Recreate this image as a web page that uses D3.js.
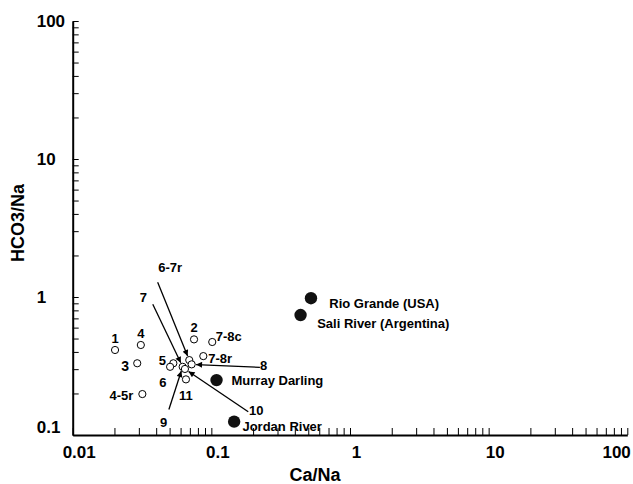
<!DOCTYPE html>
<html>
<head>
<meta charset="utf-8">
<script src="https://cdn.jsdelivr.net/npm/d3@7"></script>
<style>
  body { margin: 0; background: #fff; }
  svg { font-family: "Liberation Sans", Arial, Helvetica, sans-serif; font-weight: bold; }
  .axis text { font-size: 17px; font-weight: bold; fill: #000; }
  .axis .domain { stroke: #000; stroke-width: 2; }
  .axis .tick line { stroke: #000; stroke-width: 1; }
  .axis-label { font-size: 18px; }
  .pt-label { font-size: 13px; }
</style>
</head>
<body>
<svg id="chart"></svg>
<script>
// tick labels
const xTicksMajor = [0.01, 0.1, 1, 10, 100];
const xTickLabels = ['0.01', '0.1', '1', '10', '100'];
const yTicksMajor = [0.1, 1, 10, 100];
const yTickLabels = ['0.1', '1', '10', '100'];

// open circles (samples)
const sampleNames = ['1', '4', '3', '4-5r', '2', '7-8c', '7-8r', '5', '6', '7', '6-7r', '8', '10', '11'];
const sampleCa    = [0.0202, 0.031, 0.0292, 0.0318, 0.075, 0.1015, 0.0875, 0.0532, 0.0504, 0.0621, 0.0693, 0.0721, 0.0645, 0.0656];
const sampleHco3  = [0.413, 0.449, 0.331, 0.198, 0.493, 0.472, 0.373, 0.331, 0.312, 0.312, 0.349, 0.325, 0.301, 0.253];

// filled circles (rivers)
const riverNames = ['Rio Grande (USA)', 'Sali River (Argentina)', 'Murray Darling', 'Jordan River'];
const riverCa    = [0.523, 0.44, 0.109, 0.146];
const riverHco3  = [0.98, 0.74, 0.25, 0.125];

// arrow callouts: label, target sample, tail position (data units)
const arrowLabels  = ['6-7r', '7', '8', '9', '10'];
const arrowTargets = ['6-7r', '7', '8', '7', '10'];
const arrowFromCa   = [0.041, 0.0378, 0.224, 0.0494, 0.1845];
const arrowFromHco3 = [1.279, 0.885, 0.309, 0.153, 0.1475];

// label placement (pixel offsets from the mark, text-anchor)
const labelLayout = {
    '1': [0, -7, 'middle'], '4': [0, -7, 'middle'], '2': [0, -7, 'middle'],
    '3': [-12, 7.5, 'middle'], '4-5r': [-9, 5.7, 'end'],
    '7-8c': [3.5, -1.3, 'start'], '7-8r': [5, 6.7, 'start'],
    '5': [-11, 1.7, 'middle'], '6': [-7.3, 20, 'middle'], '11': [0, 20.7, 'middle'],
    'Rio Grande (USA)': [18.3, 10, 'start'], 'Sali River (Argentina)': [16.6, 13.3, 'start'],
    'Murray Darling': [15, 4.5, 'start'], 'Jordan River': [8.3, 9.5, 'start'],
    'a6-7r': [12.5, -10.6, 'middle'], 'a7': [-9.4, -2, 'middle'], 'a8': [3.7, 2.7, 'middle'],
    'a9': [-5.3, 17.4, 'middle'], 'a10': [8, 3.3, 'middle']
};

const width = 633, height = 484;
const svg = d3.select('#chart').attr('width', width).attr('height', height);

const x = d3.scaleLog().domain([0.01, 100]).range([72.7, 627.3]);
const y = d3.scaleLog().domain([0.1, 100]).range([435, 21]);

const minorTicks = (majors) => {
    let t = [];
    majors.slice(0, -1).forEach(m => { for (let k = 1; k <= 9; k++) t.push(m * k); });
    t.push(majors[majors.length - 1]);
    return t;
};
const fmt = (majors, labels) => d => {
    let i = majors.findIndex(m => Math.abs(m - d) / m < 1e-6);
    return i >= 0 ? labels[i] : '';
};

// x axis
const xAxisG = svg.append('g')
    .attr('class', 'axis x-axis')
    .attr('transform', `translate(0,${y(0.1)})`)
    .call(d3.axisBottom(x).tickValues(minorTicks(xTicksMajor)).tickFormat(fmt(xTicksMajor, xTickLabels))
        .tickSizeInner(-7).tickSizeOuter(0));
xAxisG.selectAll('.tick text')
    .attr('y', 23).attr('dy', 0).attr('dx', 6);
xAxisG.selectAll('.tick text').filter(d => d === 100)
    .attr('text-anchor', 'end').attr('dx', 3);

// y axis
const yAxisG = svg.append('g')
    .attr('class', 'axis y-axis')
    .attr('transform', `translate(${x(0.01)},0)`)
    .call(d3.axisLeft(y).tickValues(minorTicks(yTicksMajor)).tickFormat(fmt(yTicksMajor, yTickLabels))
        .tickSizeInner(-6).tickSizeOuter(0));
yAxisG.selectAll('.tick text')
    .attr('text-anchor', 'start').attr('x', -36).attr('dy', '0.35em');
yAxisG.selectAll('.tick text').filter(d => d === 0.1)
    .attr('dy', '-0.15em');

// axis titles
svg.append('text').attr('class', 'axis-label')
    .attr('x', 315).attr('y', 481).attr('text-anchor', 'middle').text('Ca/Na');
svg.append('text').attr('class', 'axis-label')
    .attr('transform', `translate(24,${(y(0.1) + y(100)) / 2 - 5}) rotate(-90)`)
    .attr('text-anchor', 'middle').text('HCO3/Na');

const samples = sampleNames.map((n, i) => ({name: n, ca: sampleCa[i], hco3: sampleHco3[i]}));
const rivers = riverNames.map((n, i) => ({name: n, ca: riverCa[i], hco3: riverHco3[i]}));
const arrows = arrowLabels.map((n, i) => ({
    name: n, target: samples.find(s => s.name === arrowTargets[i]),
    ca: arrowFromCa[i], hco3: arrowFromHco3[i]
}));

const rOpen = 3.6, rFilled = 6.2;

// arrow head
svg.append('defs').append('marker')
    .attr('id', 'arrowhead')
    .attr('viewBox', '0 0 10 10')
    .attr('refX', 10).attr('refY', 5)
    .attr('markerUnits', 'userSpaceOnUse')
    .attr('markerWidth', 7).attr('markerHeight', 6)
    .attr('orient', 'auto')
    .append('path').attr('d', 'M0,0L10,5L0,10Z').attr('fill', '#000');

svg.append('g').selectAll('line')
    .data(arrows)
    .join('line')
    .each(function (d) {
        const x0 = x(d.ca), y0 = y(d.hco3);
        const x1 = x(d.target.ca), y1 = y(d.target.hco3);
        const len = Math.hypot(x1 - x0, y1 - y0);
        const k = (len - rOpen - 0.8) / len;
        d3.select(this)
            .attr('x1', x0).attr('y1', y0)
            .attr('x2', x0 + (x1 - x0) * k).attr('y2', y0 + (y1 - y0) * k);
    })
    .attr('stroke', '#000')
    .attr('stroke-width', 1.3)
    .attr('marker-end', 'url(#arrowhead)');

svg.append('g').selectAll('circle')
    .data(samples)
    .join('circle')
    .attr('cx', d => x(d.ca))
    .attr('cy', d => y(d.hco3))
    .attr('r', rOpen)
    .attr('fill', '#fff')
    .attr('stroke', '#000')
    .attr('stroke-width', 1);

svg.append('g').selectAll('circle')
    .data(rivers)
    .join('circle')
    .attr('cx', d => x(d.ca))
    .attr('cy', d => y(d.hco3))
    .attr('r', rFilled)
    .attr('fill', '#111');

// labels
const labelled = samples.filter(d => labelLayout[d.name]).map(d => ({...d, key: d.name}))
    .concat(rivers.map(d => ({...d, key: d.name})))
    .concat(arrows.map(d => ({...d, key: 'a' + d.name})));

svg.append('g').selectAll('text')
    .data(labelled)
    .join('text')
    .attr('class', 'pt-label')
    .attr('x', d => x(d.ca) + labelLayout[d.key][0])
    .attr('y', d => y(d.hco3) + labelLayout[d.key][1])
    .attr('text-anchor', d => labelLayout[d.key][2])
    .style('font-size', d => d.key === '3' ? '14px' : null)
    .text(d => d.name);
</script>
</body>
</html>
